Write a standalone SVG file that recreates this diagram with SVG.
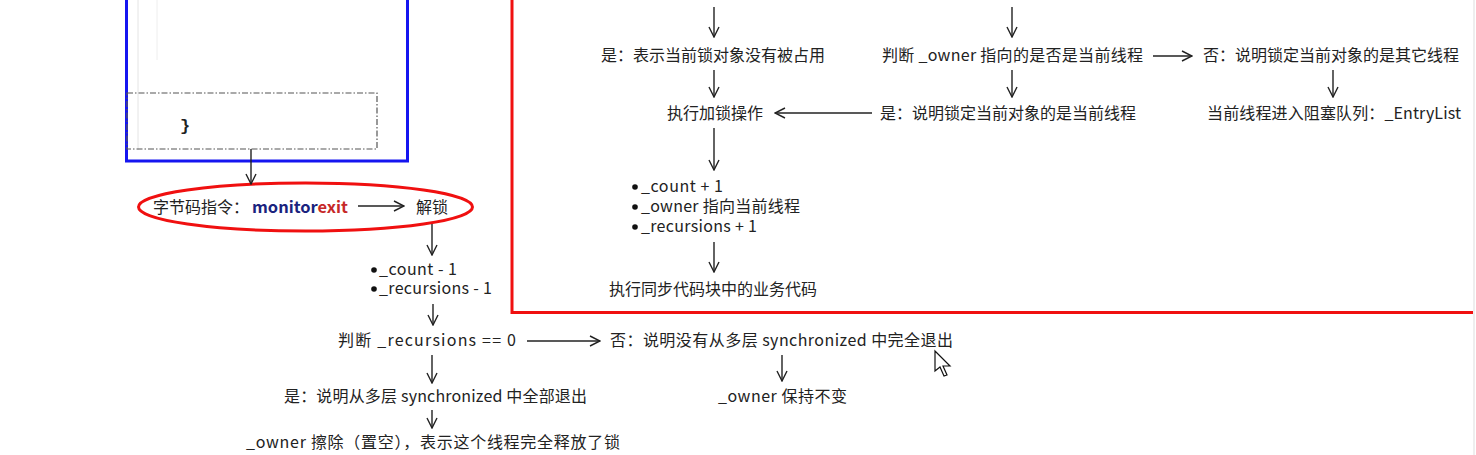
<svg xmlns="http://www.w3.org/2000/svg" width="1476" height="455" viewBox="0 0 1476 455">
<style>
text{font-family:"Noto Sans CJK SC","Microsoft YaHei",sans-serif;font-size:16px;fill:#222}
.c{stroke:#222;stroke-width:1.4;fill:none;marker-end:url(#ah)}
.b{fill:#111}
</style>
<defs>
<marker id="ah" viewBox="0 0 12 12" refX="11" refY="6" markerWidth="12" markerHeight="12" markerUnits="userSpaceOnUse" orient="auto">
<polyline points="1,1 11,6 1,11" fill="none" stroke="#222" stroke-width="1.4"/>
</marker>
</defs>
<rect width="1476" height="455" fill="#fff"/>
<line x1="1474" y1="0" x2="1474" y2="455" stroke="#ddd" stroke-width="1"/>

<g id="code-box">
<line x1="138" y1="0" x2="138" y2="150" stroke="#e4e4e4"/>
<line x1="157" y1="0" x2="157" y2="60" stroke="#eee"/>
<rect x="126.5" y="-5" width="281" height="166" fill="none" stroke="#1515f0" stroke-width="3"/>
<rect x="127" y="93" width="250" height="56" fill="none" stroke="#555" stroke-width="1.2" stroke-dasharray="6,2,1.5,2"/>
<text x="180" y="131" style="font-family:'Liberation Mono',monospace;font-size:17px;font-weight:bold">}</text>
</g>

<g id="red-frame">
<polyline points="512,0 512,312.5 1473,312.5" fill="none" stroke="#f01010" stroke-width="3"/>
</g>

<g id="monitorexit">
<ellipse cx="305.5" cy="207" rx="167" ry="24" fill="none" stroke="#f01010" stroke-width="3"/>
<text x="153" y="213">字节码指令：</text>
<text x="252" y="213" textLength="96" lengthAdjust="spacingAndGlyphs" style="font-weight:bold;fill:#1a237e">monitor<tspan style="fill:#c62828">exit</tspan></text>
<text x="416" y="213">解锁</text>
</g>

<g id="dec">
<circle class="b" cx="374" cy="270" r="2.8"/><text x="379" y="275" textLength="78">_count - 1</text>
<circle class="b" cx="374" cy="289" r="2.8"/><text x="379" y="294" textLength="113">_recursions - 1</text>
</g>
<g id="judge-rec"><text x="338" y="346" textLength="178">判断 _recursions == 0</text></g>
<g id="no-rec"><text x="610" y="346" textLength="343">否：说明没有从多层 synchronized 中完全退出</text></g>
<g id="owner-keep"><text x="718" y="402" textLength="129">_owner 保持不变</text></g>
<g id="yes-rec"><text x="284" y="402" textLength="303">是：说明从多层 synchronized 中全部退出</text></g>
<g id="owner-clear"><text x="246" y="448" textLength="374">_owner 擦除（置空），表示这个线程完全释放了锁</text></g>

<g id="not-occupied"><text x="601" y="61">是：表示当前锁对象没有被占用</text></g>
<g id="judge-owner"><text x="882" y="61" textLength="261">判断 _owner 指向的是否是当前线程</text></g>
<g id="other-thread"><text x="1203" y="61">否：说明锁定当前对象的是其它线程</text></g>
<g id="lock-op"><text x="667" y="119">执行加锁操作</text></g>
<g id="current-thread"><text x="880" y="119">是：说明锁定当前对象的是当前线程</text></g>
<g id="entrylist"><text x="1207" y="119" textLength="254">当前线程进入阻塞队列：_EntryList</text></g>
<g id="inc">
<circle class="b" cx="635" cy="187" r="2.8"/><text x="641" y="192" textLength="82">_count + 1</text>
<circle class="b" cx="635" cy="207" r="2.8"/><text x="641" y="212" textLength="159">_owner 指向当前线程</text>
<circle class="b" cx="635" cy="227" r="2.8"/><text x="641" y="232" textLength="116">_recursions + 1</text>
</g>
<g id="biz"><text x="609" y="295">执行同步代码块中的业务代码</text></g>

<g id="connectors">
<line class="c" x1="251" y1="149" x2="251" y2="184"/>
<line class="c" x1="358" y1="206" x2="404" y2="206"/>
<line class="c" x1="432" y1="224" x2="432" y2="255"/>
<line class="c" x1="433" y1="304" x2="433" y2="325"/>
<line class="c" x1="527" y1="341" x2="600" y2="341"/>
<line class="c" x1="432" y1="355" x2="432" y2="383"/>
<line class="c" x1="782" y1="355" x2="782" y2="381"/>
<line class="c" x1="432" y1="410" x2="432" y2="428"/>
<line class="c" x1="714" y1="7" x2="714" y2="37"/>
<line class="c" x1="1012" y1="7" x2="1012" y2="37"/>
<line class="c" x1="714" y1="70" x2="714" y2="97"/>
<line class="c" x1="1012" y1="70" x2="1012" y2="97"/>
<line class="c" x1="1153" y1="56" x2="1192" y2="56"/>
<line class="c" x1="1333" y1="70" x2="1333" y2="97"/>
<line class="c" x1="872" y1="113" x2="775" y2="113"/>
<line class="c" x1="714" y1="128" x2="714" y2="170"/>
<line class="c" x1="714" y1="242" x2="714" y2="272"/>
</g>

<polygon points="935,351 935,371 940,367 944,376 947,375 943,366 950,366" fill="#fff" stroke="#111" stroke-width="1.2"/>
</svg>
